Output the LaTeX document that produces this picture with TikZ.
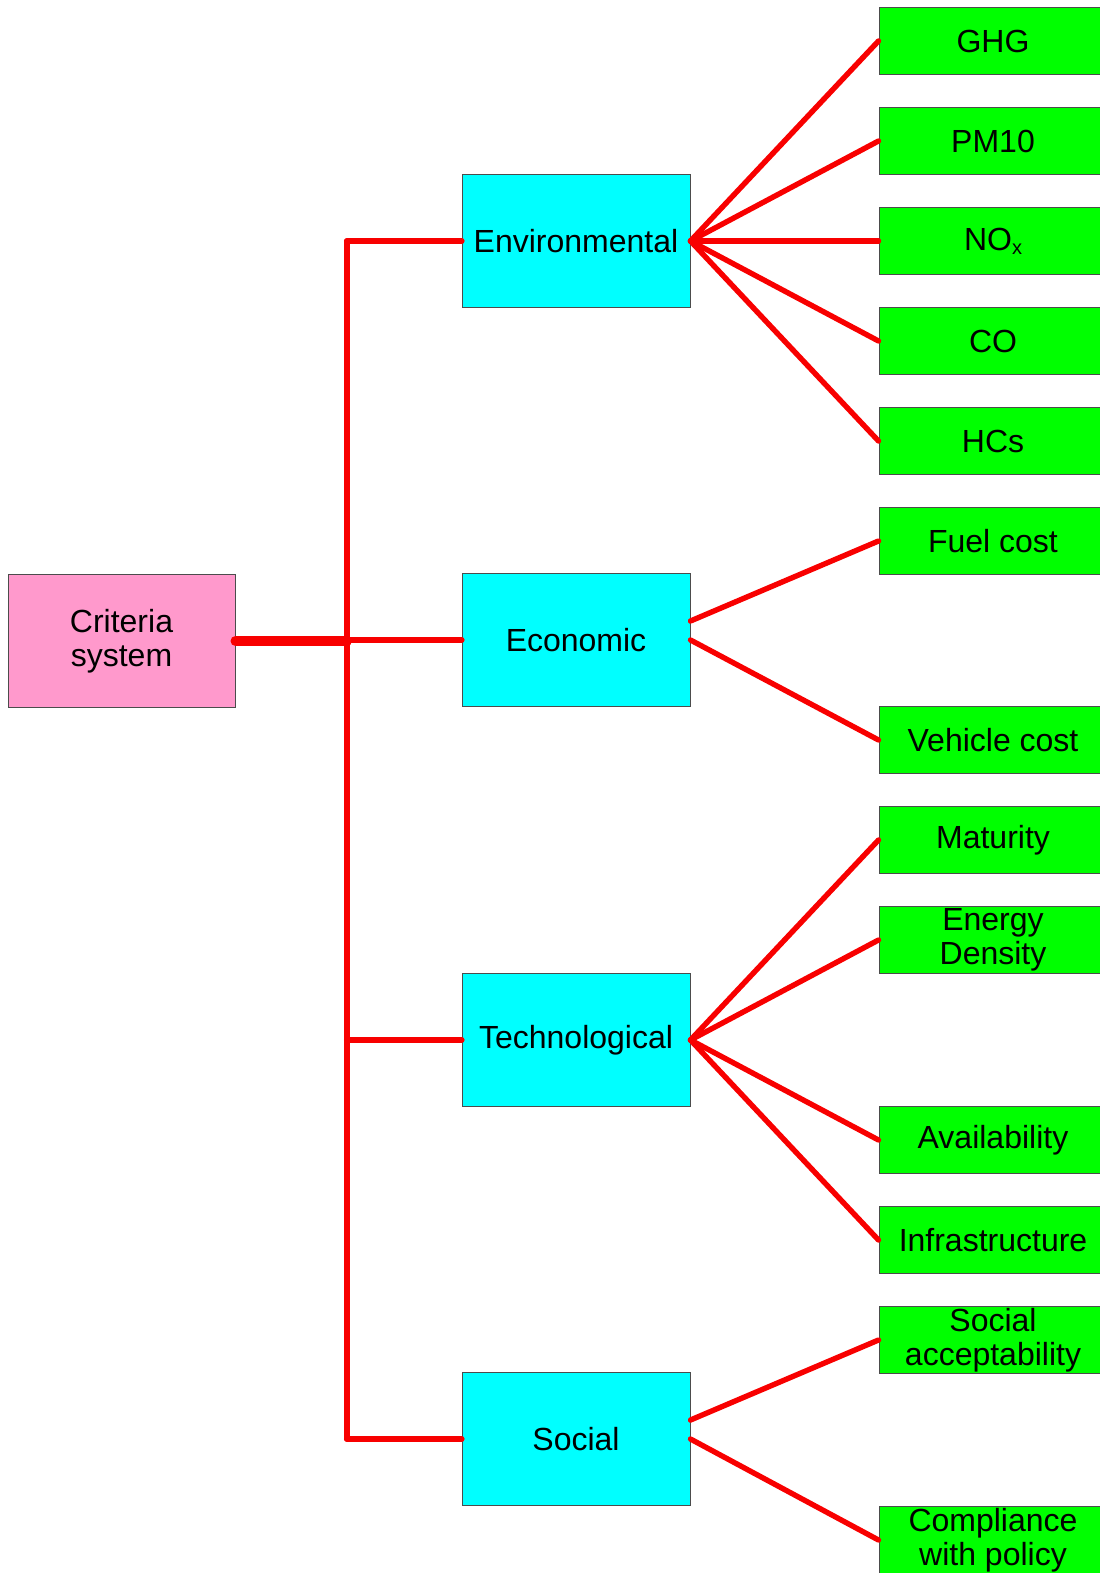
\documentclass[tikz,border=0pt]{standalone}
\usepackage{fontspec}
\setmainfont{Liberation Sans}
\definecolor{critpink}{HTML}{FF99CC}
\definecolor{catcyan}{HTML}{00FFFF}
\definecolor{leafgreen}{HTML}{00FF00}
\definecolor{linkred}{HTML}{F80000}

\begin{document}
\begin{tikzpicture}[x=0.5pt, y=-0.5pt,
	box/.style = {draw=gray!60!black, line width=0.5pt, align=center, inner sep=0pt, font=\fontsize{16}{16.8}\selectfont},
	root/.style = {box, fill=critpink, minimum width=113.5pt, minimum height=66.5pt},
	cat/.style = {box, fill=catcyan, minimum width=114pt, minimum height=66.5pt},
	leaf/.style = {box, fill=leafgreen, minimum width=114pt, minimum height=33.1pt},
	link/.style = {draw=linkred, line width=2.7pt, line cap=round},
	branch/.style = {link, line width=3.1pt},
	trunk/.style = {link, line width=5pt}]
	\useasboundingbox (0,0) rectangle (1099,1573);
		\node [root] (crit) at (121.5, 641) {Criteria\\system};
		\node [cat] (env) at (576, 241) {Environmental};
		\node [cat] (eco) at (576, 640) {Economic};
		\node [cat] (tech) at (576, 1040) {Technological};
		\node [cat] (soc) at (576, 1439) {Social};
		\node [leaf] (ghg) at (993, 41) {GHG};
		\node [leaf] (pm) at (993, 141) {PM10};
		\node [leaf] (nox) at (993, 241) {NO{\fontsize{10}{10}\selectfont\raisebox{-2pt}{x}}};
		\node [leaf] (co) at (993, 341) {CO};
		\node [leaf] (hc) at (993, 441) {HCs};
		\node [leaf] (fuel) at (993, 541) {Fuel cost};
		\node [leaf] (veh) at (993, 740) {Vehicle cost};
		\node [leaf] (mat) at (993, 840) {Maturity};
		\node [leaf] (dens) at (993, 940) {Energy\\Density};
		\node [leaf] (avail) at (993, 1140) {Availability};
		\node [leaf] (infra) at (993, 1240) {Infrastructure};
		\node [leaf] (acc) at (993, 1340) {Social\\acceptability};
		\node [leaf] (pol) at (993, 1540) {Compliance\\with policy};
		\coordinate (sTop) at (347, 241);
		\coordinate (sBot) at (347, 1439);
	% spine and branches
		\draw [link] (sTop) -- (sBot);
		\draw [trunk] (crit.east) -- (sTop |- crit.east);
		\draw [branch] (sTop) -- (env.west);
		\draw [branch] (sTop |- eco.west) -- (eco.west);
		\draw [branch] (sTop |- tech.west) -- (tech.west);
		\draw [branch] (sBot) -- (soc.west);
	% leaves
		\draw [link] (env.east) -- (ghg.west);
		\draw [link] (env.east) -- (pm.west);
		\draw [link] (env.east) -- (nox.west);
		\draw [link] (env.east) -- (co.west);
		\draw [link] (env.east) -- (hc.west);
		\draw [link] ([yshift=9.5pt]eco.east) -- (fuel.west);
		\draw [link] (eco.east) -- (veh.west);
		\draw [link] (tech.east) -- (mat.west);
		\draw [link] (tech.east) -- (dens.west);
		\draw [link] (tech.east) -- (avail.west);
		\draw [link] (tech.east) -- (infra.west);
		\draw [link] ([yshift=9.5pt]soc.east) -- (acc.west);
		\draw [link] (soc.east) -- (pol.west);
\end{tikzpicture}
\end{document}
